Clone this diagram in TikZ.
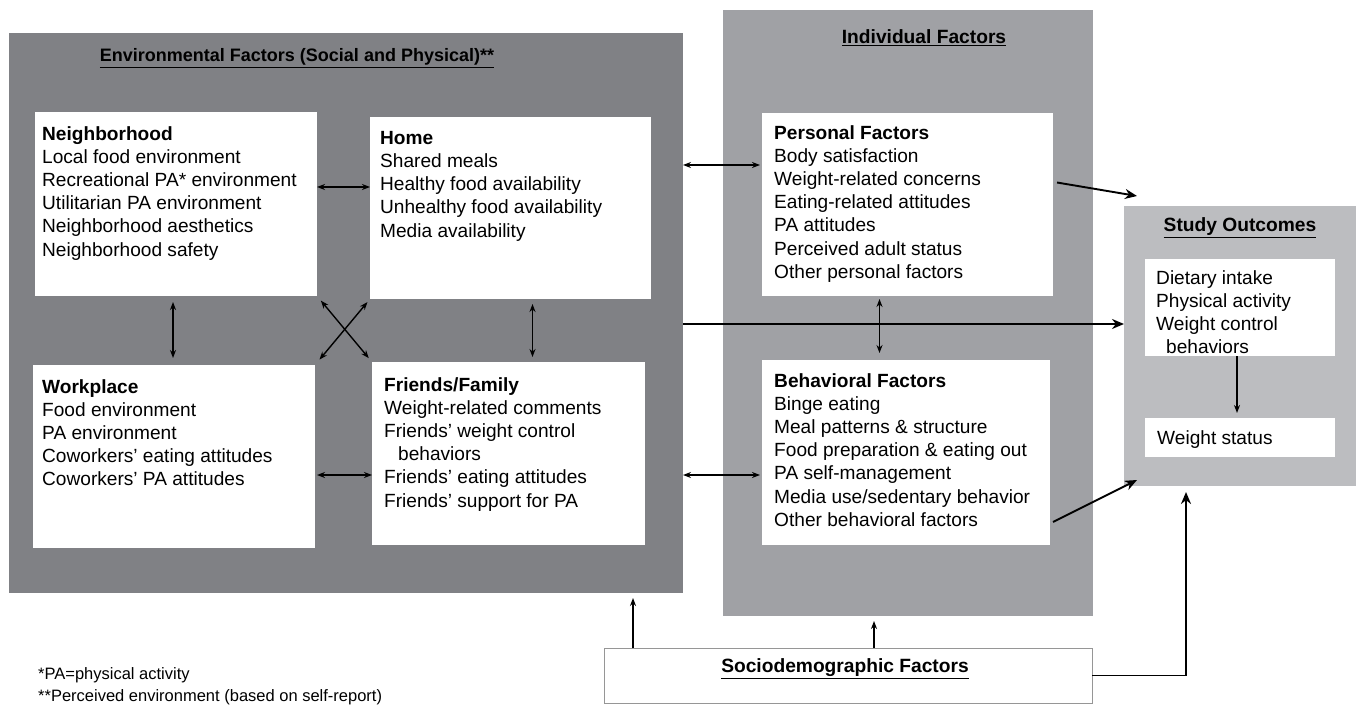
\documentclass[tikz,border=0pt]{standalone}
\usepackage{fontspec}
\setmainfont{Liberation Sans}
\usetikzlibrary{arrows.meta}
\definecolor{envgray}{RGB}{128,129,133}
\definecolor{indgray}{RGB}{160,161,165}
\definecolor{outgray}{RGB}{188,189,192}
\definecolor{sborder}{RGB}{150,150,150}
\tikzset{
  panel/.style={draw=none, anchor=north west, inner sep=0pt, outer sep=0pt},
  wbox/.style={fill=white, draw=none, anchor=north west, inner sep=0pt, outer sep=0pt},
  txt/.style={anchor=north west, align=left, inner sep=0pt, font=\fontsize{19.1}{23.2}\selectfont},
  ttl/.style={inner sep=0pt, font=\fontsize{19.2}{22}\selectfont\bfseries},
  foot/.style={anchor=west, inner sep=0pt, font=\fontsize{16.5}{20}\selectfont},
  conn/.style={line width=1.9pt, -{Stealth[length=12pt,width=10pt]}},
  sconn/.style={line width=1.5pt, -{Stealth[length=8pt,width=6pt]}},
  dconn/.style={line width=1.4pt, {Stealth[length=8pt,width=6pt]}-{Stealth[length=8pt,width=6pt]}},
}
\begin{document}
\begin{tikzpicture}[x=1pt,y=-1pt]
\useasboundingbox[fill=white] (0,0) rectangle (1356,708);
% panels
\node[panel, fill=envgray, minimum width=674pt, minimum height=560pt] (env) at (9,33) {};
\node[panel, fill=indgray, minimum width=370pt, minimum height=606pt] (ind) at (723,10) {};
\node[panel, fill=outgray, minimum width=232pt, minimum height=280pt] (out) at (1124,206) {};
\node[wbox, draw=sborder, line width=1pt, minimum width=488pt, minimum height=55pt] (socio) at (604,648) {};
% titles
\node[ttl, font=\fontsize{18}{22}\selectfont\bfseries] (envt) at (297,58) {\underline{Environmental Factors (Social and Physical)**}};
\node[ttl] (indt) at (924,38) {\underline{Individual Factors}};
\node[ttl] (outt) at (1240,228) {\underline{Study Outcomes}};
\node[ttl] (sociot) at (845,669) {\underline{Sociodemographic Factors}};
% white boxes
\node[wbox, minimum width=282pt, minimum height=184pt] (nb) at (35,112) {};
\node[wbox, minimum width=281pt, minimum height=182pt] (home) at (370,117) {};
\node[wbox, minimum width=282pt, minimum height=183pt] (wp) at (33,365) {};
\node[wbox, minimum width=273pt, minimum height=183pt] (ff) at (372,362) {};
\node[wbox, minimum width=291pt, minimum height=183pt] (pers) at (762,113) {};
\node[wbox, minimum width=288pt, minimum height=185pt] (beh) at (762,360) {};
\node[wbox, minimum width=190pt, minimum height=97pt] (diet) at (1145,259) {};
\node[wbox, minimum width=190pt, minimum height=39pt] (ws) at (1145,418) {};
% texts
\node[txt] (nbt) at (42,126) {\textbf{Neighborhood}\\Local food environment\\Recreational PA* environment\\Utilitarian PA environment\\Neighborhood aesthetics\\Neighborhood safety};
\node[txt] (homet) at (380,131) {\textbf{Home}\\Shared meals\\Healthy food availability\\Unhealthy food availability\\Media availability};
\node[txt] (wpt) at (42,379) {\textbf{Workplace}\\Food environment\\PA environment\\Coworkers’ eating attitudes\\Coworkers’ PA attitudes};
\node[txt] (fft) at (384,377) {\textbf{Friends/Family}\\Weight-related comments\\Friends’ weight control\\\hspace*{14pt}behaviors\\Friends’ eating attitudes\\Friends’ support for PA};
\node[txt] (perst) at (774,125) {\textbf{Personal Factors}\\Body satisfaction\\Weight-related concerns\\Eating-related attitudes\\PA attitudes\\Perceived adult status\\Other personal factors};
\node[txt] (beht) at (774,373) {\textbf{Behavioral Factors}\\Binge eating\\Meal patterns \& structure\\Food preparation \& eating out\\PA self-management\\Media use/sedentary behavior\\Other behavioral factors};
\node[txt] (diett) at (1156,270) {Dietary intake\\Physical activity\\Weight control\\\hspace*{10pt}behaviors};
\node[txt] (wst) at (1157,430) {Weight status};
% footnotes
\node[foot] (fn1) at (38,675) {*PA=physical activity};
\node[foot] (fn2) at (38,697) {**Perceived environment (based on self-report)};
% connectors inside environment panel
\draw[dconn] ([yshift=17pt]nb.east) -- ([yshift=17pt]nb.east -| home.west);
\draw[dconn, shorten <=6pt, shorten >=7pt] ([xshift=-3pt]nb.south) -- ([xshift=-3pt]nb.south |- wp.north);
\draw[dconn, shorten <=5pt, shorten >=5pt] ([xshift=22pt]home.south) -- ([xshift=22pt]home.south |- ff.north);
\draw[dconn, shorten <=6pt, shorten >=5pt] (nb.south east) -- (ff.north west);
\draw[dconn, shorten <=4pt, shorten >=7pt] (home.south west) -- (wp.north east);
\draw[dconn, shorten <=2pt] ([yshift=-18.5pt]wp.east) -- ([yshift=-18.5pt]wp.east -| ff.west);
% environment <-> individual
\draw[dconn, shorten >=2pt] ([yshift=39.5pt]pers.west -| env.east) -- ([yshift=39.5pt]pers.west);
\draw[dconn, shorten >=2pt] ([yshift=-22.5pt]beh.west -| env.east) -- ([yshift=-22.5pt]beh.west);
\draw[dconn, shorten <=3pt, shorten >=7pt] ([xshift=-28pt]pers.south) -- ([xshift=-28pt]pers.south |- beh.north);
% to study outcomes
\draw[conn] ([yshift=-11pt]env.east) -- ([yshift=-11pt]env.east -| out.west);
\draw[conn] ([shift={(4pt,22pt)}]pers.east) -- ([shift={(13pt,10pt)}]out.north west);
\draw[conn] ([shift={(3pt,23pt)}]beh.south east) -- ([shift={(13pt,6pt)}]out.south west);
\draw[sconn, shorten >=5pt] ([xshift=-3pt]diet.south) -- ([xshift=-3pt]diet.south |- ws.north);
% sociodemographic
\draw[sconn, shorten >=5pt] ([xshift=29pt]socio.north west) -- ([xshift=29pt]socio.north west |- env.south);
\draw[sconn, shorten >=5pt] ([xshift=26pt]socio.north) -- ([xshift=26pt]socio.north |- ind.south);
\draw[conn, shorten >=6pt] (socio.east) -| ([xshift=62pt]out.south west);
\end{tikzpicture}
\end{document}
